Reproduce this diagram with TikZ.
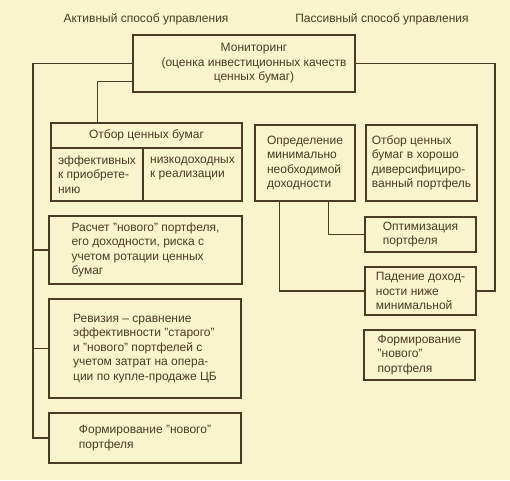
\documentclass[tikz,border=0pt]{standalone}
\usepackage{fontspec}
\setmainfont{Liberation Sans}
\usepackage{xcolor}
\definecolor{paper}{HTML}{F8F4CC}
\definecolor{ink}{HTML}{4A3C22}
\tikzset{
    block/.style={draw=ink, line width=1.5pt, text=ink, align=left, inner sep=0pt, font=\fontsize{12}{14.5}\selectfont},
    link/.style={draw=ink, line width=1.1pt},
    head/.style={text=ink, inner sep=0pt, font=\fontsize{12}{14.5}\selectfont}
}

\begin{document}
\begin{tikzpicture}[x=1pt, y=-1pt]
    \fill[paper] (0,0) rectangle (510,480);
    \useasboundingbox (0,0) rectangle (510,480);

    \node[head] (act) at (146,19) {Активный способ управления};
    \node[head] (pas) at (382,19) {Пассивный способ управления};

    \node[block, minimum width=222pt, minimum height=57pt,
        label={[head, align=center, xshift=10pt]center:Мониторинг\\(оценка инвестиционных качеств\\ценных бумаг)}] (mon) at (244,63.5) {};

    \node[block, minimum width=191pt, minimum height=25pt, align=center] (otb) at (146.5,135.5) {Отбор ценных бумаг};
    \node[block, minimum width=92pt, minimum height=53pt] (eff) at (97,174.5) {эффективных\\к приобрете-\\нию};
    \node[block, minimum width=99pt, minimum height=53pt] (low) at (192.5,174.5) {низкодоходных\\к реализации\\~};
    \node[block, minimum width=193pt, minimum height=68pt] (calc) at (145.5,250) {Расчет "нового" портфеля,\\его доходности, риска с\\учетом ротации ценных\\бумаг};
    \node[block, minimum width=192pt, minimum height=99pt] (rev) at (145,348.5) {Ревизия -- сравнение\\эффективности "старого"\\и "нового" портфелей с\\учетом затрат на опера-\\ции по купле-продаже ЦБ};
    \node[block, minimum width=192pt, minimum height=50pt] (form1) at (145,438) {Формирование "нового"\\портфеля};

    \node[block, minimum width=100pt, minimum height=76pt] (opr) at (305,163) {Определение\\минимально\\необходимой\\доходности};
    \node[block, minimum width=111pt, minimum height=76pt] (otb2) at (421.5,163) {Отбор ценных\\бумаг в хорошо\\диверсифициро-\\ванный портфель};
    \node[block, minimum width=111pt, minimum height=35pt] (opt) at (420.5,234.5) {Оптимизация\\портфеля};
    \node[block, minimum width=111pt, minimum height=48pt] (pad) at (420.5,291) {Падение доход-\\ности ниже\\минимальной};
    \node[block, minimum width=111pt, minimum height=50pt] (form2) at (419.5,355) {Формирование\\"нового"\\портфеля};

    \coordinate (lx) at (33,0);
    \coordinate (rx) at (495,0);

    \draw[link] (mon.west) -| (lx |- form1.west) -- (form1.west);
    \draw[link] (lx |- calc.west) -- (calc.west);
    \draw[link] (lx |- rev.west) -- (rev.west);
    \draw[link] ([yshift=-18pt]mon.west) -| ([xshift=47pt]otb.north west);
    \draw[link] (mon.east) -| (rx |- pad.east) -- (pad.east);
    \draw[link] ([xshift=74pt]opr.south west) |- (opt.west);
    \draw[link] ([xshift=25pt]opr.south west) |- (pad.west);

\end{tikzpicture}
\end{document}
